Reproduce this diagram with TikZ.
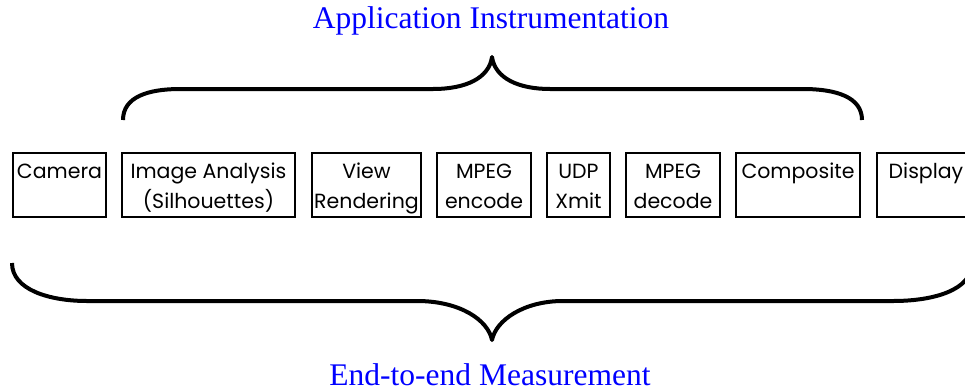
\documentclass[tikz,border=0pt]{standalone}
\usepackage{fontspec}
\setmainfont{Liberation Serif}
\newfontfamily\boxfont{Poppins}
\begin{document}
\begin{tikzpicture}[x=1pt,y=-1pt,
  stage/.style={draw, line width=2.6pt, minimum height=64pt, inner sep=0pt, outer sep=0pt, anchor=north west},
  lbl/.style={anchor=north, inner sep=0pt, align=center, font=\boxfont\fontsize{20.5}{30}\selectfont},
  brace/.style={line width=4pt, line join=round},
  title/.style={text=blue, font=\fontsize{31.5}{36}\selectfont, anchor=base}]
\useasboundingbox (0,0) rectangle (965,391);
\foreach \n/\a/\b/\t in {cam/13/106/{Camera},
  ia/122/295/{Image Analysis\\(Silhouettes)},
  vr/312/421/{View\\Rendering},
  enc/437/531/{MPEG\\encode},
  udp/547/610/{UDP\\Xmit},
  dec/626/720/{MPEG\\decode},
  comp/736/860/{Composite},
  disp/877/975/{Display}}{
  \node[stage, minimum width={\b-\a}] (\n) at (\a,153) {};
  \node[lbl] (\n-t) at ([yshift=-4pt]\n.north) {\strut\t};
}
\draw[brace] (123,120) .. controls (123,97) and (148,89) .. (180,89) -- (433,89)
  .. controls (466,89) and (489,78) .. (492,57)
  .. controls (495,78) and (518,89) .. (550,89) -- (803,89)
  .. controls (836,89) and (862,97) .. (862,120);
\draw[brace] (12,263) .. controls (12,290) and (50,301) .. (87,301) -- (417,301)
  .. controls (460,301) and (488,320) .. (492,340)
  .. controls (496,320) and (524,301) .. (563,301) -- (893,301)
  .. controls (934,301) and (972,290) .. (972,263);
\node[title] (top) at (491,28) {Application Instrumentation};
\node[title] (bot) at (490,385) {End-to-end Measurement};
\end{tikzpicture}
\end{document}
